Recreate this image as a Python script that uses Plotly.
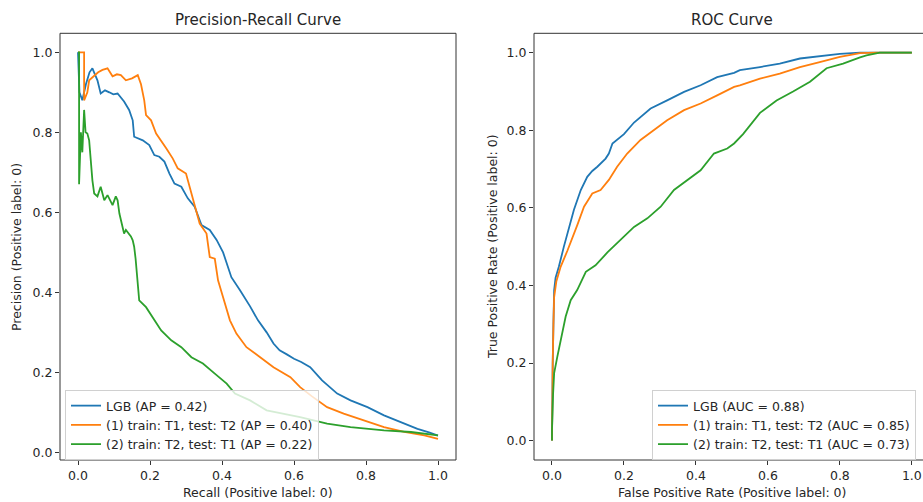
import plotly.graph_objects as go

W, H = 923, 502

# ---------------- Precision-Recall data ----------------
pr_lgb_recall = [0, 0.004, 0.012, 0.022, 0.032, 0.040, 0.047, 0.054, 0.063, 0.075, 0.087, 0.098, 0.11, 0.12,
                 0.128, 0.142, 0.152, 0.156, 0.168, 0.18, 0.198, 0.212, 0.226, 0.24, 0.254, 0.268, 0.287,
                 0.305, 0.324, 0.343, 0.366, 0.385, 0.403, 0.426, 0.45, 0.478, 0.50, 0.524, 0.543, 0.56,
                 0.58, 0.60, 0.62, 0.645, 0.678, 0.70, 0.72, 0.757, 0.804, 0.85, 0.897, 0.943, 0.975, 1.0]
pr_lgb_precision = [1.0, 0.90, 0.88, 0.92, 0.95, 0.96, 0.945, 0.93, 0.897, 0.905, 0.90, 0.895, 0.897, 0.885,
                    0.877, 0.856, 0.83, 0.789, 0.785, 0.78, 0.768, 0.743, 0.739, 0.727, 0.697, 0.672, 0.664,
                    0.635, 0.614, 0.568, 0.556, 0.531, 0.50, 0.438, 0.405, 0.365, 0.33, 0.30, 0.272, 0.255,
                    0.245, 0.234, 0.226, 0.213, 0.18, 0.162, 0.147, 0.13, 0.113, 0.0925, 0.076, 0.059, 0.05, 0.042]

pr_t1_recall = [0, 0.017, 0.017, 0.026, 0.031, 0.045, 0.056, 0.068, 0.082, 0.096, 0.108, 0.119, 0.133, 0.15,
                0.166, 0.175, 0.184, 0.189, 0.203, 0.217, 0.231, 0.245, 0.263, 0.277, 0.30, 0.315, 0.329,
                0.338, 0.357, 0.362, 0.366, 0.38, 0.389, 0.403, 0.422, 0.44, 0.468, 0.506, 0.543, 0.59,
                0.617, 0.65, 0.692, 0.738, 0.794, 0.85, 0.906, 0.962, 1.0]
pr_t1_precision = [1.0, 1.0, 0.88, 0.90, 0.93, 0.94, 0.95, 0.956, 0.96, 0.94, 0.945, 0.943, 0.93, 0.935,
                   0.943, 0.92, 0.88, 0.843, 0.83, 0.797, 0.78, 0.76, 0.735, 0.71, 0.697, 0.647, 0.606,
                   0.572, 0.547, 0.52, 0.488, 0.484, 0.43, 0.388, 0.33, 0.297, 0.263, 0.238, 0.213, 0.188,
                   0.163, 0.14, 0.113, 0.097, 0.08, 0.063, 0.051, 0.0425, 0.034]

pr_t2_recall = [0, 0.003, 0.003, 0.008, 0.012, 0.017, 0.021, 0.026, 0.031, 0.035, 0.04, 0.045, 0.054, 0.063,
                0.073, 0.082, 0.096, 0.105, 0.11, 0.115, 0.119, 0.128, 0.133, 0.147, 0.152, 0.156, 0.16,
                0.166, 0.17, 0.189, 0.208, 0.231, 0.259, 0.287, 0.315, 0.347, 0.38, 0.413, 0.436, 0.478,
                0.524, 0.617, 0.692, 0.757, 0.85, 0.925, 1.0]
pr_t2_precision = [1.0, 1.0, 0.67, 0.80, 0.75, 0.856, 0.80, 0.797, 0.78, 0.73, 0.68, 0.647, 0.64, 0.664,
                   0.63, 0.643, 0.618, 0.64, 0.63, 0.597, 0.58, 0.547, 0.556, 0.54, 0.53, 0.514, 0.484,
                   0.42, 0.38, 0.363, 0.338, 0.305, 0.28, 0.263, 0.238, 0.222, 0.197, 0.172, 0.147, 0.13,
                   0.105, 0.088, 0.072, 0.063, 0.055, 0.051, 0.0425]

# ---------------- ROC data ----------------
roc_lgb_fpr = [0, 0.0, 0.002, 0.004, 0.006, 0.01, 0.019, 0.033, 0.043, 0.061, 0.08, 0.098, 0.112, 0.126,
               0.149, 0.158, 0.168, 0.2, 0.228, 0.274, 0.32, 0.367, 0.413, 0.459, 0.506, 0.522, 0.578,
               0.633, 0.689, 0.744, 0.8, 0.856, 0.9, 1.0]
roc_lgb_tpr = [0, 0.1, 0.2, 0.3, 0.388, 0.42, 0.448, 0.5, 0.535, 0.595, 0.646, 0.68, 0.695, 0.706,
               0.727, 0.74, 0.766, 0.79, 0.82, 0.856, 0.877, 0.899, 0.916, 0.937, 0.948, 0.955, 0.963,
               0.972, 0.985, 0.99, 0.997, 1.0, 1.0, 1.0]

roc_t1_fpr = [0, 0.0, 0.002, 0.004, 0.006, 0.012, 0.024, 0.043, 0.052, 0.061, 0.07, 0.089, 0.112, 0.135,
              0.158, 0.181, 0.209, 0.246, 0.283, 0.32, 0.367, 0.413, 0.459, 0.506, 0.522, 0.578, 0.633,
              0.689, 0.744, 0.8, 0.856, 0.9, 1.0]
roc_t1_tpr = [0, 0.1, 0.2, 0.3, 0.37, 0.41, 0.448, 0.49, 0.51, 0.535, 0.555, 0.603, 0.637, 0.646,
              0.672, 0.706, 0.74, 0.775, 0.8, 0.826, 0.852, 0.869, 0.89, 0.912, 0.916, 0.933, 0.946,
              0.963, 0.976, 0.989, 0.999, 1.0, 1.0]

roc_t2_fpr = [0, 0.0, 0.003, 0.006, 0.015, 0.024, 0.038, 0.052, 0.07, 0.094, 0.121, 0.154, 0.19, 0.228,
              0.265, 0.302, 0.339, 0.376, 0.413, 0.45, 0.487, 0.506, 0.531, 0.578, 0.624, 0.67, 0.717,
              0.763, 0.809, 0.856, 0.874, 0.911, 1.0]
roc_t2_tpr = [0, 0.028, 0.12, 0.174, 0.217, 0.26, 0.32, 0.362, 0.388, 0.435, 0.452, 0.485, 0.517, 0.551,
              0.573, 0.603, 0.646, 0.672, 0.697, 0.74, 0.753, 0.766, 0.79, 0.845, 0.877, 0.9, 0.925,
              0.96, 0.972, 0.988, 0.993, 1.0, 1.0]

pr_names = ["LGB (AP = 0.42)", "(1) train: T1, test: T2 (AP = 0.40)", "(2) train: T2, test: T1 (AP = 0.22)"]
roc_names = ["LGB (AUC = 0.88)", "(1) train: T1, test: T2 (AUC = 0.85)", "(2) train: T2, test: T1 (AUC = 0.73)"]
colors = ["#1f77b4", "#ff7f0e", "#2ca02c"]
tick_vals = [0.0, 0.2, 0.4, 0.6, 0.8, 1.0]
tick_text = ["0.0", "0.2", "0.4", "0.6", "0.8", "1.0"]

FONT = "DejaVu Sans"
TXT = "#262626"
FS = 12.5

fig = go.Figure()
pr_series = [(pr_lgb_recall, pr_lgb_precision), (pr_t1_recall, pr_t1_precision), (pr_t2_recall, pr_t2_precision)]
roc_series = [(roc_lgb_fpr, roc_lgb_tpr), (roc_t1_fpr, roc_t1_tpr), (roc_t2_fpr, roc_t2_tpr)]
for (x, y), name, c in zip(pr_series, pr_names, colors):
    fig.add_trace(go.Scatter(x=x, y=y, mode="lines", name=name, line=dict(color=c, width=1.8),
                             xaxis="x", yaxis="y", legend="legend"))
for (x, y), name, c in zip(roc_series, roc_names, colors):
    fig.add_trace(go.Scatter(x=x, y=y, mode="lines", name=name, line=dict(color=c, width=1.8),
                             xaxis="x2", yaxis="y2", legend="legend2"))

def px_x(p):
    return p / W

def px_y(p):
    return 1 - p / H

L1, R1 = 60, 456
L2, R2 = 534, 923
T, B = 33.3, 460

axis_common = dict(showgrid=False, zeroline=False, showline=False, ticks="outside", ticklen=4,
                   tickwidth=1, tickcolor="#333", tickvals=tick_vals, ticktext=tick_text,
                   tickfont=dict(family=FONT, size=FS, color=TXT))

fig.update_layout(
    width=W, height=H, margin=dict(l=0, r=0, t=0, b=0),
    paper_bgcolor="white", plot_bgcolor="white",
    font=dict(family=FONT, size=FS, color=TXT),
    xaxis=dict(domain=[px_x(L1), px_x(R1)], range=[-0.05, 1.05], anchor="y", **axis_common),
    yaxis=dict(domain=[px_y(B), px_y(T)], range=[-0.019, 1.0475], anchor="x", **axis_common),
    xaxis2=dict(domain=[px_x(L2), 1.0], range=[-0.05, 1.031], anchor="y2", **axis_common),
    yaxis2=dict(domain=[px_y(B), px_y(T)], range=[-0.05, 1.05], anchor="x2", **axis_common),
    legend=dict(x=px_x(65), y=px_y(390), xanchor="left", yanchor="top",
                bgcolor="rgba(255,255,255,0.8)", bordercolor="#d0d0d0", borderwidth=1,
                font=dict(family=FONT, size=FS, color=TXT), itemwidth=30, tracegroupgap=0),
    legend2=dict(x=px_x(652), y=px_y(390), xanchor="left", yanchor="top",
                 bgcolor="rgba(255,255,255,0.8)", bordercolor="#d0d0d0", borderwidth=1,
                 font=dict(family=FONT, size=FS, color=TXT), itemwidth=30, tracegroupgap=0),
    showlegend=True,
)

# axes frames
frame = dict(color="#333", width=1)
shapes = [
    dict(type="rect", xref="paper", yref="paper", x0=px_x(L1), x1=px_x(R1), y0=px_y(B), y1=px_y(T), line=frame),
    dict(type="line", xref="paper", yref="paper", x0=px_x(L2), x1=px_x(L2), y0=px_y(B), y1=px_y(T), line=frame),
    dict(type="line", xref="paper", yref="paper", x0=px_x(L2), x1=1.0, y0=px_y(T), y1=px_y(T), line=frame),
    dict(type="line", xref="paper", yref="paper", x0=px_x(L2), x1=1.0, y0=px_y(B), y1=px_y(B), line=frame),
]
fig.update_layout(shapes=shapes)

ann = []
def text(x, y, s, size=FS, angle=0):
    ann.append(dict(x=px_x(x), y=px_y(y), xref="paper", yref="paper", text=s, showarrow=False,
                    xanchor="center", yanchor="middle", textangle=angle,
                    font=dict(family=FONT, size=size, color=TXT)))

text(258, 20, "Precision-Recall Curve", size=15)
text(731.5, 20, "ROC Curve", size=15)
text(258, 492, "Recall (Positive label: 0)")
text(731.5, 492, "False Positive Rate (Positive label: 0)")
text(16, 247, "Precision (Positive label: 0)", angle=-90)
text(492, 247, "True Positive Rate (Positive label: 0)", angle=-90)
fig.update_layout(annotations=ann)

fig.write_html("out.html")
